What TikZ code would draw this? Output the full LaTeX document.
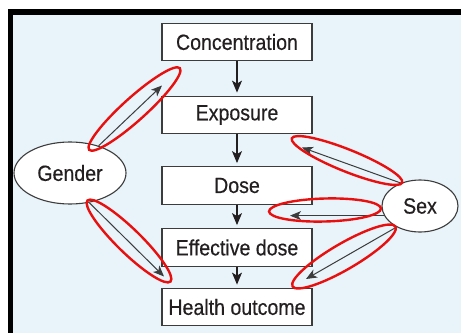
\documentclass[tikz,border=0pt]{standalone}
\usepackage{fontspec}
\setmainfont[FakeStretch=0.89,FakeBold=0.4]{Liberation Sans}
\usetikzlibrary{arrows.meta,shapes.geometric}
\definecolor{bg}{HTML}{E8F3FA}
\definecolor{txt}{HTML}{231F20}
\definecolor{edge}{HTML}{3C3C3C}
\definecolor{ring}{HTML}{E8100F}
\tikzset{
  box/.style={draw=edge, line width=1.3pt, fill=white, minimum width=150pt, minimum height=37.5pt, inner sep=0pt, text=txt, font=\fontsize{22}{26}\selectfont},
  oval/.style={ellipse, draw=edge, line width=1.1pt, fill=white, inner sep=0pt, text=txt, font=\fontsize{22}{26}\selectfont},
  mainarrow/.style={draw=txt, line width=1.2pt, -{Stealth[length=12pt,width=10pt,inset=3pt]}, shorten >=3pt},
  sidearrow/.style={draw=edge, line width=1pt, -{Stealth[length=11pt,width=9pt,inset=3pt]}},
  redring/.style={draw=ring, line width=2.4pt}
}
\begin{document}
\begin{tikzpicture}[x=1pt,y=1pt]
\useasboundingbox (0,0) rectangle (461,333);
\fill[white] (0,0) rectangle (461,333);
\fill[bg] (13,0) rectangle (461,318);
\fill[black] (8,0) rectangle (13,323.5);
\fill[black] (8,318) rectangle (461,323.5);

\node[box] (conc) at (237,291) {Concentration};
\node[box] (expo) at (237,218) {Exposure};
\node[box] (dose) at (237,147.5) {Dose};
\node[box] (eff) at (237,85.5) {Effective dose};
\node[box] (health) at (237,26) {Health outcome};

\node[oval, minimum width=112pt, minimum height=62pt] (gender) at (70,160) {Gender};
\node[oval, minimum width=76pt, minimum height=52pt] (sex) at (420,127) {Sex};

\draw[mainarrow] (conc) -- (expo);
\draw[mainarrow] (expo) -- (dose);
\draw[mainarrow] (dose) -- (eff);
\draw[mainarrow] (eff) -- (health);

\coordinate (t1) at (162,247.5);
\coordinate (t2) at (164,56.5);
\coordinate (t3) at (302,185.5);
\coordinate (t4) at (290,117);
\coordinate (t5) at (306,54);
\draw[sidearrow] (gender) -- (t1);
\draw[sidearrow] (gender.-57) -- (t2);
\draw[sidearrow] (sex.130) -- (t3);
\draw[sidearrow] (sex.195) -- (t4 |- sex.195);
\draw[sidearrow] (sex.222) -- (t5);

\draw[redring, shift={(134.5,224)}, rotate=42] (0,0) ellipse [x radius=61, y radius=11.5];
\draw[redring, shift={(129,92)}, rotate=-44.3] (0,0) ellipse [x radius=58, y radius=12];
\draw[redring, shift={(347,172.5)}, rotate=-21.9] (0,0) ellipse [x radius=59.5, y radius=11];
\draw[redring, shift={(325,123)}, rotate=1.5] (0,0) ellipse [x radius=56, y radius=11.5];
\draw[redring, shift={(344,76.5)}, rotate=30.2] (0,0) ellipse [x radius=59.5, y radius=13];
\end{tikzpicture}
\end{document}
